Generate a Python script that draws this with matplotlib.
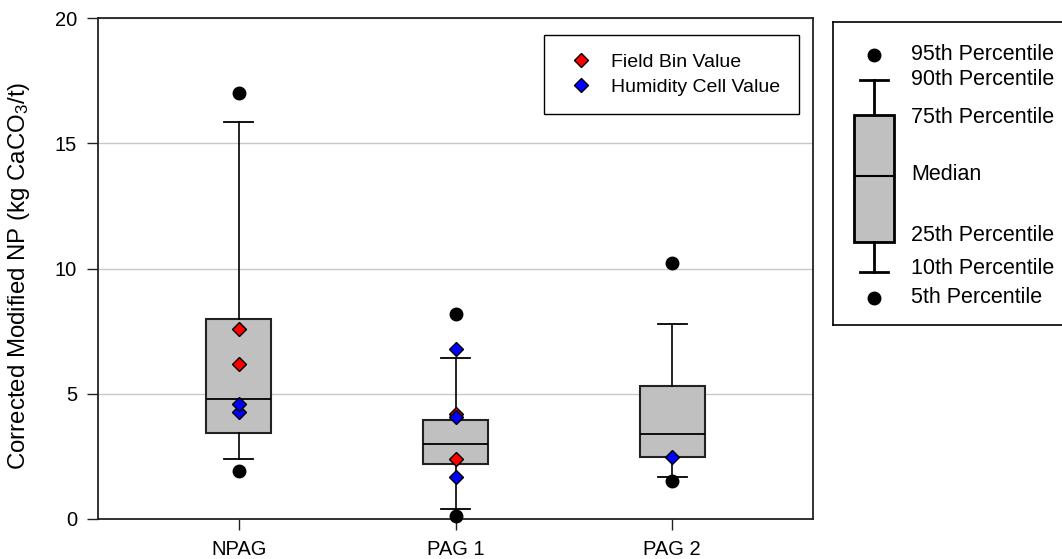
import matplotlib
matplotlib.use("Agg")
from matplotlib import pyplot as plt
from matplotlib.lines import Line2D

plt.rcParams['font.family'] = ['Liberation Sans', 'DejaVu Sans']
plt.rcParams['mathtext.default'] = 'regular'

## box plot percentiles per group
groups = ['NPAG', 'PAG 1', 'PAG 2']
p5 = [1.92, 0.12, 1.52]
p10 = [2.41, 0.41, 1.69]
p25 = [3.45, 2.19, 2.48]
p50 = [4.79, 2.99, 3.40]
p75 = [7.99, 3.95, 5.29]
p90 = [15.85, 6.41, 7.79]
p95 = [17.0, 8.19, 10.21]

## individual sample values
field_grp = ['NPAG', 'NPAG', 'PAG 1', 'PAG 1']
field_val = [7.59, 6.19, 4.19, 2.41]
hum_grp = ['NPAG', 'NPAG', 'PAG 1', 'PAG 1', 'PAG 1', 'PAG 2']
hum_val = [4.29, 4.61, 6.79, 4.08, 1.69, 2.48]

## legend key (schematic, in legend units 0-100)
key_labels = ['95th Percentile', '90th Percentile', '75th Percentile', 'Median',
              '25th Percentile', '10th Percentile', '5th Percentile']
key_stats = [9.0, 17.6, 27.5, 49.3, 69.3, 80.9, 89.1]  # 5,10,25,50,75,90,95
key_text_y = [89.4, 80.9, 68.6, 49.8, 29.7, 18.8, 9.2]

W, H = 1062, 559
fig = plt.figure(figsize=(W / 100, H / 100), dpi=100)
ax = fig.add_axes([98 / W, 40 / H, 715 / W, 501 / H])

positions = [1, 2, 3]
stats = []
for i, g in enumerate(groups):
    stats.append(dict(label=g, whislo=p10[i], q1=p25[i], med=p50[i], q3=p75[i],
                      whishi=p90[i], fliers=[p5[i], p95[i]]))

box_kw = dict(patch_artist=True, showfliers=True,
              boxprops=dict(facecolor='#c0c0c0', edgecolor='#222222', linewidth=1.5),
              medianprops=dict(color='black', linewidth=1.3),
              whiskerprops=dict(color='black', linewidth=1.2),
              capprops=dict(color='black', linewidth=1.3),
              flierprops=dict(marker='o', markerfacecolor='black', markeredgecolor='black',
                              markersize=9, linestyle='none'))

bp = ax.bxp(stats, positions=positions, widths=0.3, capwidths=0.135, **box_kw)
for fl in bp['fliers']:
    fl.set_clip_on(False)
    fl.set_zorder(5)

pos = dict(zip(groups, positions))
ax.plot([pos[g] for g in field_grp], field_val, 'D', color='#ff0000', markeredgecolor='black',
        markeredgewidth=1, markersize=7.5, linestyle='none', zorder=4)
ax.plot([pos[g] for g in hum_grp], hum_val, 'D', color='#0000ff', markeredgecolor='black',
        markeredgewidth=1, markersize=7.5, linestyle='none', zorder=4)

ax.set_xlim(0.35, 3.65)
ax.set_ylim(0, 20)
ax.set_yticks([0, 5, 10, 15, 20])
ax.set_xticks(positions)
ax.set_xticklabels(groups)
ax.yaxis.grid(True, color='#c8c8c8', linewidth=1)
ax.set_axisbelow(True)
ax.tick_params(direction='out', length=8, width=1, labelsize=14.5, pad=7, color='#222222')
for sp in ax.spines.values():
    sp.set_linewidth(1.3)
    sp.set_color('#222222')
ax.set_ylabel('Corrected Modified NP (kg CaCO$_3$/t)', fontsize=17.3)
ax.yaxis.set_label_coords(-0.092, 0.485)

handles = [Line2D([], [], marker='D', color='#ff0000', markeredgecolor='black', markersize=7.5, linestyle='none'),
           Line2D([], [], marker='D', color='#0000ff', markeredgecolor='black', markersize=7.5, linestyle='none')]
leg = ax.legend(handles, ['Field Bin Value', 'Humidity Cell Value'], loc='upper right',
                bbox_to_anchor=(799 / W, 1 - 35 / H), bbox_transform=fig.transFigure,
                borderaxespad=0, fontsize=14, fancybox=False, framealpha=1, edgecolor='black',
                borderpad=0.95, handlelength=1.9, handletextpad=0.6, labelspacing=0.36)
leg.get_frame().set_linewidth(1)

## right-hand legend explaining the box
lax = fig.add_axes([833 / W, 1 - 325 / H, 237 / W, 303 / H])
lax.set_xlim(0, 100)
lax.set_ylim(0, 100)
for sp in lax.spines.values():
    sp.set_linewidth(1.2)
    sp.set_color('black')
k = key_stats
key = [dict(whislo=k[1], q1=k[2], med=k[3], q3=k[4], whishi=k[5], fliers=[k[0], k[6]])]
kbp = lax.bxp(key, positions=[17.3], widths=16.9, capwidths=12.2, patch_artist=True,
              boxprops=dict(facecolor='#c0c0c0', edgecolor='black', linewidth=2),
              medianprops=dict(color='black', linewidth=1.5),
              whiskerprops=dict(color='black', linewidth=2),
              capprops=dict(color='black', linewidth=2),
              flierprops=dict(marker='o', markerfacecolor='black', markeredgecolor='black',
                              markersize=9, linestyle='none'))
for lbl, y in zip(key_labels, key_text_y):
    lax.text(32.9, y, lbl, fontsize=15.5, va='center', ha='left')
lax.set_xticks([])
lax.set_yticks([])

fig.savefig('out.png', dpi=100)
